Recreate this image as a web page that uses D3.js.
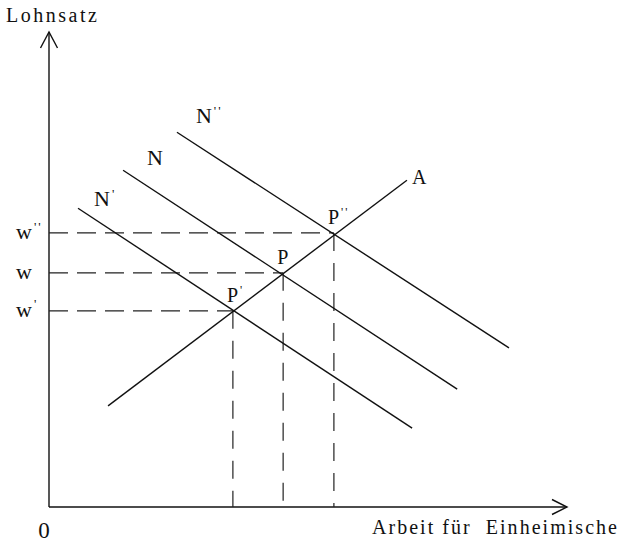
<!DOCTYPE html>
<html>
<head>
<meta charset="utf-8">
<script src="https://cdn.jsdelivr.net/npm/d3@7"></script>
<style>
  body { margin: 0; background: #fff; }
  text { font-family: "Liberation Serif", "Times New Roman", serif; fill: #111; }
</style>
</head>
<body>
<svg id="chart"></svg>
<script>
// chart units: quantity of work (x) and wage (y), both 0..10
const curveNames = ["A", "N'", "N", "N''"];
const curveX = [[1.14, 6.91], [0.56, 7.01], [1.43, 7.88], [2.47, 8.88]];
const curveY = [[2.13, 6.88], [6.29, 1.66], [7.09, 2.48], [7.89, 3.35]];

// equilibrium points and matching wage levels
const eqNames = ["P'", "P", "P''"];
const eqX = [3.55, 4.52, 5.50];
const eqY = [4.13, 4.93, 5.77];
const wageLabels = ["w'", "w", "w''"];

const width = 619, height = 549;
const svg = d3.select("#chart").attr("width", width).attr("height", height);

const x = d3.scaleLinear().domain([0, 10]).range([49, 567]);
const y = d3.scaleLinear().domain([0, 10]).range([507, 32]);

// label offsets (px) from the curve end they belong to
const curveLabelOffset = { "A": [5, 4], "N'": [16, -2], "N": [24, -5], "N''": [19, -9] };

// text with raised small primes
function primeText(sel, label, size) {
  const base = label.replace(/'/g, "");
  const primes = label.length - base.length;
  sel.append("tspan").text(base);
  if (primes > 0) {
    sel.append("tspan")
      .attr("font-size", size * 0.6)
      .attr("dx", 2)
      .attr("dy", -size * 0.38)
      .attr("letter-spacing", 2)
      .text("'".repeat(primes));
  }
}

// axes
const axis = svg.append("g").attr("stroke", "#111").attr("stroke-width", 1.4).attr("fill", "none");
axis.append("line").attr("x1", x(0)).attr("y1", y(0)).attr("x2", x(0)).attr("y2", y(10));
axis.append("line").attr("x1", x(0)).attr("y1", y(0)).attr("x2", x(10)).attr("y2", y(0));
axis.append("polyline")
  .attr("points", [[x(0) - 8.5, y(10) + 16], [x(0), y(10)], [x(0) + 8.5, y(10) + 16]].join(" "));
axis.append("polyline")
  .attr("points", [[x(10) - 15, y(0) - 7.5], [x(10), y(0)], [x(10) - 15, y(0) + 7.5]].join(" "));

svg.append("text").attr("x", 6).attr("y", 22).attr("font-size", 20)
  .attr("textLength", 91).attr("lengthAdjust", "spacing").text("Lohnsatz");
svg.append("text").attr("x", 44).attr("y", 538).attr("font-size", 23)
  .attr("text-anchor", "middle").text("0");
svg.append("text").attr("x", 372).attr("y", 534).attr("font-size", 20)
  .style("white-space", "pre")
  .attr("textLength", 245).attr("lengthAdjust", "spacing").text("Arbeit für  Einheimische");

// dashed guides
const guides = svg.append("g").attr("stroke", "#222").attr("stroke-width", 1.2);
eqX.forEach((qx, i) => {
  guides.append("line")
    .attr("x1", x(0)).attr("y1", y(eqY[i])).attr("x2", x(qx)).attr("y2", y(eqY[i]))
    .attr("stroke-dasharray", "19,9");
  guides.append("line")
    .attr("x1", x(qx)).attr("y1", y(eqY[i])).attr("x2", x(qx)).attr("y2", y(0))
    .attr("stroke-dasharray", "18,12");
});

// curves
const line = d3.line().x(d => x(d[0])).y(d => y(d[1]));
curveNames.forEach((name, i) => {
  const pts = curveX[i].map((v, j) => [v, curveY[i][j]]);
  svg.append("path").attr("d", line(pts))
    .attr("fill", "none").attr("stroke", "#111").attr("stroke-width", 1.4);
  const anchor = name === "A" ? pts[1] : pts[0];
  const off = curveLabelOffset[name];
  const size = name === "A" ? 20 : 22;
  const t = svg.append("text")
    .attr("x", x(anchor[0]) + off[0]).attr("y", y(anchor[1]) + off[1])
    .attr("font-size", size);
  primeText(t, name, size);
});

// equilibrium labels
eqNames.forEach((name, i) => {
  const t = svg.append("text")
    .attr("x", x(eqX[i]) - 6).attr("y", y(eqY[i]) - 9).attr("font-size", 20);
  primeText(t, name, 20);
});

// wage labels on the y axis
wageLabels.forEach((name, i) => {
  const t = svg.append("text")
    .attr("x", 16).attr("y", y(eqY[i]) + 6).attr("font-size", 22);
  primeText(t, name, 22);
});
</script>
</body>
</html>
